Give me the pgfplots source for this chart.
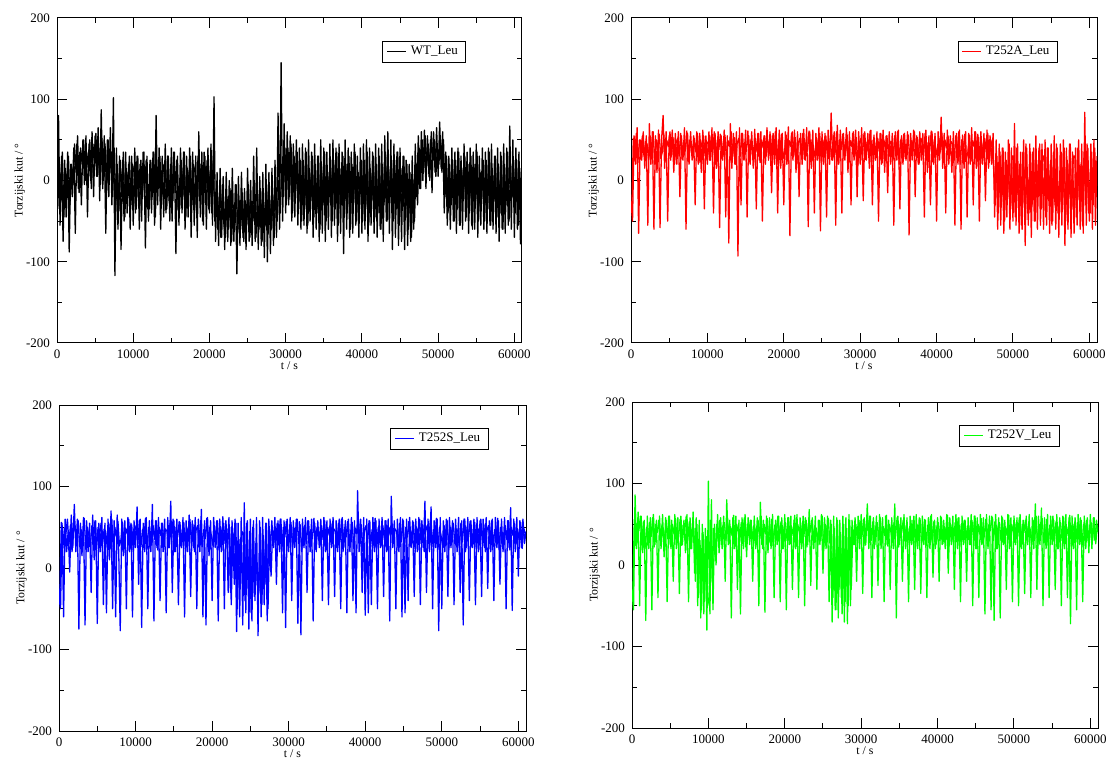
\documentclass[border=0pt]{standalone}
\usepackage{pgfplots}
\pgfplotsset{compat=1.18}
\usepackage{fontspec}
\setmainfont{Liberation Serif}

\pgfplotsset{
  panel/.style={
    scale only axis, anchor=south west,
    xmin=0, xmax=61000, ymin=-200, ymax=200,
    scaled x ticks=false, scaled y ticks=false,
    xtick={0,10000,20000,30000,40000,50000,60000},
    xticklabels={0,10000,20000,30000,40000,50000,60000},
    ytick={-200,-100,0,100,200},
    yticklabels={-200,-100,0,100,200},
    minor x tick num=1, minor y tick num=1,
    tick align=inside,
    major tick length=5pt, minor tick length=2.5pt,
    tick style={black, line width=0.5pt},
    axis line style={line width=0.5pt},
    ticklabel style={font=\fontsize{6.5}{7}\selectfont},
    xlabel={t / s}, ylabel={Torzijski kut / °},
    every axis y label/.style={at={(axis description cs:-0.08,0.5)}, rotate=90, anchor=center, font=\fontsize{5.9}{7}\selectfont},
    every axis x label/.style={at={(axis description cs:0.5,-0.07)}, anchor=center, font=\fontsize{5.9}{7}\selectfont},
    legend style={anchor=north east, draw=black, line width=0.4pt, fill=white,
      font=\fontsize{6.5}{7}\selectfont, inner xsep=2pt, inner ysep=0.8pt,
      nodes={inner xsep=2pt, inner ysep=1.5pt}},
    legend image code/.code={\draw[#1, line width=0.5pt] (0pt,0pt) -- (9.5pt,0pt);},
  },
  trace/.style={line width=0.65pt, line join=round},
}

\begin{document}
\begin{tikzpicture}
\useasboundingbox (0,0) rectangle (553.5pt,380pt);

% WT_Leu
\begin{axis}[panel, at={(28.5pt,208.5pt)}, width=232.5pt, height=162.5pt,
  legend style={at={(0.88,0.929)}}]
\addplot[trace, black] coordinates {
(0,-45)(200,80)(400,-55)(600,30)(800,-75)(1000,25)(1200,-45)(1400,35)(1600,-88)(1800,20)
(2000,-20)(2200,40)(2400,-65)(2600,45)(2800,-10)(3000,35)(3200,-30)(3400,50)(3600,-5)(3800,55)
(4000,-45)(4200,45)(4400,0)(4600,60)(4800,-20)(5000,55)(5200,5)(5400,65)(5600,-25)(5800,87)
(6000,-10)(6200,55)(6400,-65)(6600,50)(6800,-20)(7000,65)(7200,-30)(7400,102)(7600,-117)(7800,40)
(8000,-60)(8200,30)(8400,-85)(8600,25)(8800,-50)(9000,35)(9200,-40)(9400,20)(9600,-60)(9800,30)
(10000,-55)(10200,40)(10400,-35)(10600,30)(10800,-60)(11000,25)(11200,-20)(11400,35)(11600,-83)(11800,30)
(12000,-50)(12200,25)(12400,-40)(12600,35)(12800,-55)(13000,80)(13200,-30)(13400,40)(13600,-60)(13800,30)
(14000,-45)(14200,45)(14400,-35)(14600,30)(14800,-50)(15000,40)(15200,-25)(15400,35)(15600,-90)(15800,30)
(16000,-55)(16200,40)(16400,-40)(16600,35)(16800,-60)(17000,30)(17200,-45)(17400,40)(17600,-70)(17800,35)
(18000,-55)(18200,30)(18400,-70)(18600,60)(18800,-45)(19000,35)(19200,-55)(19400,30)(19600,-60)(19800,40)
(20000,-40)(20200,45)(20400,-55)(20600,103)(20800,-75)(21000,10)(21200,-80)(21400,15)(21600,-70)(21800,5)
(22000,-85)(22200,10)(22400,-75)(22600,0)(22800,-80)(23000,15)(23200,-75)(23400,-5)(23600,-115)(23800,5)
(24000,-80)(24200,10)(24400,-70)(24600,-10)(24800,-85)(25000,15)(25200,-75)(25400,0)(25600,-80)(25800,30)
(26000,-75)(26200,40)(26400,-85)(26600,5)(26800,-80)(27000,10)(27200,-95)(27400,20)(27600,-100)(27800,10)
(28000,-90)(28200,15)(28400,-80)(28600,25)(28800,-70)(29000,83)(29200,-60)(29400,145)(29600,-50)(29800,70)
(30000,-40)(30200,60)(30400,-30)(30600,55)(30800,-50)(31000,45)(31200,-45)(31400,50)(31600,-55)(31800,40)
(32000,-60)(32200,45)(32400,-55)(32600,40)(32800,-65)(33000,50)(33200,-50)(33400,35)(33600,-70)(33800,45)
(34000,-60)(34200,30)(34400,-75)(34600,50)(34800,-65)(35000,40)(35200,-75)(35400,35)(35600,-60)(35800,45)
(36000,-70)(36200,50)(36400,-55)(36600,40)(36800,-75)(37000,45)(37200,-65)(37400,35)(37600,-90)(37800,50)
(38000,-60)(38200,40)(38400,-70)(38600,35)(38800,-65)(39000,45)(39200,-55)(39400,30)(39600,-70)(39800,40)
(40000,-65)(40200,45)(40400,-60)(40600,50)(40800,-75)(41000,40)(41200,-55)(41400,35)(41600,-65)(41800,45)
(42000,-70)(42200,40)(42400,-60)(42600,45)(42800,-75)(43000,55)(43200,-50)(43400,60)(43600,-65)(43800,50)
(44000,-85)(44200,45)(44400,-70)(44600,35)(44800,-80)(45000,40)(45200,-75)(45400,30)(45600,-85)(45800,25)
(46000,-80)(46200,20)(46400,-75)(46600,30)(46800,-60)(47000,45)(47200,-20)(47400,55)(47600,-10)(47800,60)
(48000,0)(48200,62)(48400,-10)(48600,55)(48800,5)(49000,50)(49200,-15)(49400,60)(49600,10)(49800,65)
(50000,5)(50200,72)(50400,15)(50600,60)(50800,-40)(51000,35)(51200,-55)(51400,30)(51600,-60)(51800,40)
(52000,-50)(52200,35)(52400,-65)(52600,40)(52800,-55)(53000,30)(53200,-60)(53400,45)(53600,-50)(53800,35)
(54000,-65)(54200,40)(54400,-55)(54600,35)(54800,-60)(55000,45)(55200,-70)(55400,30)(55600,-55)(55800,40)
(56000,-60)(56200,35)(56400,-65)(56600,40)(56800,-55)(57000,45)(57200,-60)(57400,30)(57600,-65)(57800,40)
(58000,-75)(58200,35)(58400,-60)(58600,45)(58800,-65)(59000,40)(59200,-55)(59400,67)(59600,-60)(59800,50)
(60000,-70)(60200,40)(60400,-60)(60600,35)(60800,-78)(61000,20)
};
\addlegendentry{WT\_Leu}
\addplot[trace, black, forget plot] coordinates {
(100,-35)(300,25)(500,-20)(700,35)(900,-45)(1100,15)(1300,-10)(1500,30)(1700,-30)(1900,20)
(2100,-5)(2300,45)(2500,10)(2700,55)(2900,-15)(3100,40)(3300,20)(3500,50)(3700,0)(3900,35)
(4100,15)(4300,50)(4500,-10)(4700,45)(4900,25)(5100,58)(5300,5)(5500,40)(5700,-5)(5900,52)
(6100,0)(6300,45)(6500,-15)(6700,50)(6900,10)(7100,35)(7300,-20)(7500,40)(7700,-30)(7900,20)
(8100,-35)(8300,25)(8500,-20)(8700,35)(8900,-45)(9100,15)(9300,-10)(9500,30)(9700,-30)(9900,20)
(10100,10)(10300,-40)(10500,30)(10700,-25)(10900,20)(11100,-50)(11300,35)(11500,-15)(11700,25)(11900,-35)
(12100,-35)(12300,25)(12500,-20)(12700,35)(12900,-45)(13100,15)(13300,-10)(13500,30)(13700,-30)(13900,20)
(14100,10)(14300,-40)(14500,30)(14700,-25)(14900,20)(15100,-50)(15300,35)(15500,-15)(15700,25)(15900,-35)
(16100,-35)(16300,25)(16500,-20)(16700,35)(16900,-45)(17100,15)(17300,-10)(17500,30)(17700,-30)(17900,20)
(18100,10)(18300,-40)(18500,30)(18700,-25)(18900,20)(19100,-50)(19300,35)(19500,-15)(19700,25)(19900,-35)
(20100,10)(20300,-40)(20500,30)(20700,-50)(20900,-10)(21100,-60)(21300,-20)(21500,-70)(21700,-5)(21900,-55)
(22100,-70)(22300,-20)(22500,-60)(22700,-10)(22900,-75)(23100,-30)(23300,-55)(23500,-5)(23700,-65)(23900,-25)
(24100,-60)(24300,-15)(24500,-75)(24700,-25)(24900,-55)(25100,-5)(25300,-70)(25500,-35)(25700,-50)(25900,-20)
(26100,-70)(26300,-20)(26500,-60)(26700,-10)(26900,-75)(27100,-30)(27300,-55)(27500,-5)(27700,-65)(27900,-25)
(28100,-60)(28300,-20)(28500,-70)(28700,-10)(28900,-50)(29100,0)(29300,-40)(29500,20)(29700,-20)(29900,40)
(30100,-30)(30300,40)(30500,-20)(30700,45)(30900,-40)(31100,30)(31300,-10)(31500,35)(31700,-35)(31900,25)
(32100,-50)(32300,25)(32500,-35)(32700,35)(32900,-55)(33100,15)(33300,-25)(33500,30)(33700,-45)(33900,20)
(34100,-40)(34300,30)(34500,-60)(34700,20)(34900,-30)(35100,35)(35300,-50)(35500,10)(35700,-20)(35900,25)
(36100,-50)(36300,25)(36500,-35)(36700,35)(36900,-55)(37100,15)(37300,-25)(37500,30)(37700,-45)(37900,20)
(38100,-40)(38300,30)(38500,-60)(38700,20)(38900,-30)(39100,35)(39300,-50)(39500,10)(39700,-20)(39900,25)
(40100,-50)(40300,25)(40500,-35)(40700,35)(40900,-55)(41100,15)(41300,-25)(41500,30)(41700,-45)(41900,20)
(42100,-40)(42300,30)(42500,-60)(42700,20)(42900,-30)(43100,35)(43300,-50)(43500,10)(43700,-20)(43900,25)
(44100,-50)(44300,25)(44500,-35)(44700,35)(44900,-55)(45100,15)(45300,-25)(45500,30)(45700,-45)(45900,20)
(46100,-60)(46300,10)(46500,-70)(46700,0)(46900,-50)(47100,20)(47300,-30)(47500,40)(47700,-10)(47900,50)
(48100,10)(48300,55)(48500,20)(48700,45)(48900,0)(49100,60)(49300,25)(49500,50)(49700,5)(49900,40)
(50100,20)(50300,55)(50500,10)(50700,50)(50900,-20)(51100,30)(51300,-40)(51500,20)(51700,-30)(51900,25)
(52100,-50)(52300,25)(52500,-35)(52700,35)(52900,-55)(53100,15)(53300,-25)(53500,30)(53700,-45)(53900,20)
(54100,-40)(54300,30)(54500,-60)(54700,20)(54900,-30)(55100,35)(55300,-50)(55500,10)(55700,-20)(55900,25)
(56100,-50)(56300,25)(56500,-35)(56700,35)(56900,-55)(57100,15)(57300,-25)(57500,30)(57700,-45)(57900,20)
(58100,-40)(58300,30)(58500,-60)(58700,20)(58900,-30)(59100,35)(59300,-50)(59500,10)(59700,-20)(59900,25)
(60100,-40)(60300,25)(60500,-55)(60700,15)(60900,-30)
};
\end{axis}

% T252A_Leu
\begin{axis}[panel, at={(315.5pt,208.5pt)}, width=233pt, height=162.5pt,
  legend style={at={(0.916,0.929)}}]
\addplot[trace, red] coordinates {
(0,-25)(200,-50)(400,55)(600,20)(800,65)(1000,-65)(1200,50)(1400,25)(1600,60)(1800,15)
(2000,55)(2200,-55)(2400,70)(2600,20)(2800,60)(3000,-60)(3200,55)(3400,10)(3600,62)(3800,-58)
(4000,50)(4200,80)(4400,15)(4600,60)(4800,-50)(5000,55)(5200,25)(5400,62)(5600,10)(5800,58)
(6000,20)(6200,60)(6400,-20)(6600,55)(6800,25)(7000,65)(7200,-60)(7400,58)(7600,20)(7800,60)
(8000,25)(8200,55)(8400,-30)(8600,60)(8800,20)(9000,58)(9200,10)(9400,62)(9600,-35)(9800,55)
(10000,20)(10200,60)(10400,25)(10600,65)(10800,-40)(11000,58)(11200,15)(11400,60)(11600,-58)(11800,55)
(12000,25)(12200,62)(12400,-45)(12600,55)(12800,-77)(13000,70)(13200,15)(13400,58)(13600,20)(13800,60)
(14000,-93)(14200,65)(14400,-30)(14600,58)(14800,25)(15000,62)(15200,-45)(15400,55)(15600,20)(15800,60)
(16000,15)(16200,63)(16400,-35)(16600,58)(16800,25)(17000,60)(17200,-50)(17400,55)(17600,20)(17800,65)
(18000,25)(18200,60)(18400,-15)(18600,58)(18800,20)(19000,65)(19200,-40)(19400,62)(19600,15)(19800,58)
(20000,-30)(20200,60)(20400,20)(20600,66)(20800,-68)(21000,58)(21200,25)(21400,62)(21600,10)(21800,60)
(22000,-20)(22200,58)(22400,20)(22600,63)(22800,25)(23000,65)(23200,-57)(23400,60)(23600,15)(23800,62)
(24000,-40)(24200,58)(24400,25)(24600,65)(24800,-62)(25000,60)(25200,20)(25400,58)(25600,-45)(25800,62)
(26000,20)(26200,83)(26400,25)(26600,60)(26800,-55)(27000,68)(27200,20)(27400,62)(27600,-40)(27800,58)
(28000,25)(28200,65)(28400,10)(28600,60)(28800,-30)(29000,58)(29200,25)(29400,62)(29600,-20)(29800,60)
(30000,20)(30200,65)(30400,-25)(30600,60)(30800,25)(31000,58)(31200,15)(31400,62)(31600,-30)(31800,56)
(32000,25)(32200,60)(32400,-50)(32600,58)(32800,20)(33000,62)(33200,10)(33400,55)(33600,-15)(33800,60)
(34000,20)(34200,58)(34400,-55)(34600,60)(34800,25)(35000,62)(35200,-35)(35400,55)(35600,20)(35800,58)
(36000,25)(36200,60)(36400,-67)(36600,58)(36800,25)(37000,62)(37200,-20)(37400,55)(37600,20)(37800,60)
(38000,25)(38200,58)(38400,-45)(38600,62)(38800,10)(39000,55)(39200,-30)(39400,60)(39600,20)(39800,58)
(40000,-50)(40200,60)(40400,25)(40600,78)(40800,15)(41000,58)(41200,-40)(41400,62)(41600,20)(41800,55)
(42000,10)(42200,60)(42400,-55)(42600,58)(42800,20)(43000,62)(43200,-60)(43400,56)(43600,15)(43800,60)
(44000,-45)(44200,58)(44400,20)(44600,65)(44800,-30)(45000,60)(45200,15)(45400,57)(45600,-50)(45800,60)
(46000,20)(46200,58)(46400,-25)(46600,62)(46800,15)(47000,55)(47200,20)(47400,58)(47600,-45)(47800,50)
(48000,-60)(48200,45)(48400,-55)(48600,40)(48800,-65)(49000,35)(49200,-45)(49400,50)(49600,-60)(49800,40)
(50000,-50)(50200,70)(50400,-55)(50600,45)(50800,-65)(51000,35)(51200,-60)(51400,50)(51600,-80)(51800,40)
(52000,-55)(52200,45)(52400,-70)(52600,35)(52800,-50)(53000,55)(53200,-60)(53400,40)(53600,-55)(53800,45)
(54000,-60)(54200,50)(54400,-55)(54600,40)(54800,-65)(55000,45)(55200,-50)(55400,55)(55600,-60)(55800,40)
(56000,-70)(56200,45)(56400,-55)(56600,50)(56800,-80)(57000,40)(57200,-60)(57400,45)(57600,-70)(57800,35)
(58000,-65)(58200,40)(58400,-55)(58600,50)(58800,-60)(59000,45)(59200,-65)(59400,84)(59600,-55)(59800,40)
(60000,-50)(60200,45)(60400,-60)(60600,50)(60800,-55)(61000,30)
};
\addlegendentry{T252A\_Leu}
\addplot[trace, red, forget plot] coordinates {
(100,-40)(300,52)(500,35)(700,58)(900,22)(1100,50)(1300,40)(1500,55)(1700,30)(1900,48)
(2100,45)(2300,25)(2500,55)(2700,32)(2900,60)(3100,20)(3300,50)(3500,38)(3700,57)(3900,27)
(4100,35)(4300,56)(4500,24)(4700,49)(4900,42)(5100,60)(5300,30)(5500,53)(5700,20)(5900,46)
(6100,52)(6300,30)(6500,58)(6700,26)(6900,47)(7100,36)(7300,61)(7500,23)(7700,50)(7900,40)
(8100,28)(8300,52)(8500,35)(8700,58)(8900,22)(9100,50)(9300,40)(9500,55)(9700,30)(9900,48)
(10100,45)(10300,25)(10500,55)(10700,32)(10900,60)(11100,20)(11300,50)(11500,38)(11700,57)(11900,27)
(12100,35)(12300,56)(12500,24)(12700,49)(12900,42)(13100,60)(13300,30)(13500,53)(13700,20)(13900,46)
(14100,52)(14300,30)(14500,58)(14700,26)(14900,47)(15100,36)(15300,61)(15500,23)(15700,50)(15900,40)
(16100,28)(16300,52)(16500,35)(16700,58)(16900,22)(17100,50)(17300,40)(17500,55)(17700,30)(17900,48)
(18100,45)(18300,25)(18500,55)(18700,32)(18900,60)(19100,20)(19300,50)(19500,38)(19700,57)(19900,27)
(20100,35)(20300,56)(20500,24)(20700,49)(20900,42)(21100,60)(21300,30)(21500,53)(21700,20)(21900,46)
(22100,52)(22300,30)(22500,58)(22700,26)(22900,47)(23100,36)(23300,61)(23500,23)(23700,50)(23900,40)
(24100,28)(24300,52)(24500,35)(24700,58)(24900,22)(25100,50)(25300,40)(25500,55)(25700,30)(25900,48)
(26100,45)(26300,25)(26500,55)(26700,32)(26900,60)(27100,20)(27300,50)(27500,38)(27700,57)(27900,27)
(28100,35)(28300,56)(28500,24)(28700,49)(28900,42)(29100,60)(29300,30)(29500,53)(29700,20)(29900,46)
(30100,52)(30300,30)(30500,58)(30700,26)(30900,47)(31100,36)(31300,61)(31500,23)(31700,50)(31900,40)
(32100,28)(32300,52)(32500,35)(32700,58)(32900,22)(33100,50)(33300,40)(33500,55)(33700,30)(33900,48)
(34100,45)(34300,25)(34500,55)(34700,32)(34900,60)(35100,20)(35300,50)(35500,38)(35700,57)(35900,27)
(36100,35)(36300,56)(36500,24)(36700,49)(36900,42)(37100,60)(37300,30)(37500,53)(37700,20)(37900,46)
(38100,52)(38300,30)(38500,58)(38700,26)(38900,47)(39100,36)(39300,61)(39500,23)(39700,50)(39900,40)
(40100,28)(40300,52)(40500,35)(40700,58)(40900,22)(41100,50)(41300,40)(41500,55)(41700,30)(41900,48)
(42100,45)(42300,25)(42500,55)(42700,32)(42900,60)(43100,20)(43300,50)(43500,38)(43700,57)(43900,27)
(44100,35)(44300,56)(44500,24)(44700,49)(44900,42)(45100,60)(45300,30)(45500,53)(45700,20)(45900,46)
(46100,28)(46300,52)(46500,35)(46700,58)(46900,22)(47100,50)(47300,40)(47500,10)(47700,-30)(47900,30)
(48100,-40)(48300,35)(48500,-30)(48700,40)(48900,-50)(49100,25)(49300,-20)(49500,45)(49700,-35)(49900,30)
(50100,30)(50300,-45)(50500,40)(50700,-25)(50900,20)(51100,-55)(51300,35)(51500,-30)(51700,45)(51900,-40)
(52100,-40)(52300,35)(52500,-30)(52700,40)(52900,-50)(53100,25)(53300,-20)(53500,45)(53700,-35)(53900,30)
(54100,30)(54300,-45)(54500,40)(54700,-25)(54900,20)(55100,-55)(55300,35)(55500,-30)(55700,45)(55900,-40)
(56100,-40)(56300,35)(56500,-30)(56700,40)(56900,-50)(57100,25)(57300,-20)(57500,45)(57700,-35)(57900,30)
(58100,30)(58300,-45)(58500,40)(58700,-25)(58900,20)(59100,-55)(59300,35)(59500,-30)(59700,45)(59900,-40)
(60100,-40)(60300,35)(60500,-30)(60700,40)(60900,-20)
};
\end{axis}

% T252S_Leu
\begin{axis}[panel, at={(29.5pt,14.5pt)}, width=233.5pt, height=163pt,
  legend style={at={(0.92,0.93)}}]
\addplot[trace, blue] coordinates {
(0,-25)(200,-50)(400,55)(600,-60)(800,60)(1000,20)(1200,45)(1400,-5)(1600,65)(1800,25)
(2000,78)(2200,20)(2400,60)(2600,-75)(2800,55)(3000,15)(3200,62)(3400,-70)(3600,58)(3800,20)
(4000,55)(4200,-30)(4400,65)(4600,10)(4800,58)(5000,-68)(5200,55)(5400,20)(5600,62)(5800,-45)
(6000,55)(6200,-55)(6400,60)(6600,10)(6800,70)(7000,-50)(7200,58)(7400,-60)(7600,65)(7800,20)
(8000,-77)(8200,60)(8400,15)(8600,58)(8800,-50)(9000,62)(9200,20)(9400,55)(9600,-60)(9800,58)
(10000,25)(10200,75)(10400,-20)(10600,60)(10800,-73)(11000,55)(11200,20)(11400,62)(11600,-50)(11800,58)
(12000,20)(12200,78)(12400,-65)(12600,58)(12800,25)(13000,62)(13200,-40)(13400,55)(13600,20)(13800,60)
(14000,-55)(14200,62)(14400,25)(14600,82)(14800,-30)(15000,58)(15200,20)(15400,60)(15600,-45)(15800,56)
(16000,25)(16200,62)(16400,-60)(16600,58)(16800,20)(17000,65)(17200,-35)(17400,58)(17600,25)(17800,62)
(18000,-50)(18200,60)(18400,20)(18600,72)(18800,-60)(19000,58)(19200,-70)(19400,62)(19600,15)(19800,58)
(20000,-40)(20200,62)(20400,25)(20600,58)(20800,-65)(21000,60)(21200,20)(21400,63)(21600,-50)(21800,58)
(22000,25)(22200,62)(22400,-30)(22600,58)(22800,20)(23000,60)(23200,-78)(23400,55)(23600,-60)(23800,62)
(24000,-70)(24200,80)(24400,-55)(24600,58)(24800,-75)(25000,60)(25200,-65)(25400,58)(25600,-40)(25800,62)
(26000,-83)(26200,58)(26400,-60)(26600,62)(26800,-45)(27000,55)(27200,-65)(27400,60)(27600,20)(27800,58)
(28000,25)(28200,62)(28400,-20)(28600,58)(28800,20)(29000,60)(29200,-55)(29400,58)(29600,-73)(29800,60)
(30000,20)(30200,62)(30400,-40)(30600,58)(30800,25)(31000,60)(31200,-68)(31400,57)(31600,-82)(31800,60)
(32000,25)(32200,62)(32400,-30)(32600,58)(32800,20)(33000,60)(33200,-65)(33400,55)(33600,20)(33800,58)
(34000,25)(34200,60)(34400,-40)(34600,62)(34800,20)(35000,58)(35200,-45)(35400,60)(35600,25)(35800,62)
(36000,-35)(36200,58)(36400,20)(36600,60)(36800,-50)(37000,62)(37200,25)(37400,58)(37600,-55)(37800,60)
(38000,20)(38200,62)(38400,-40)(38600,58)(38800,-55)(39000,95)(39200,20)(39400,60)(39600,-30)(39800,62)
(40000,-58)(40200,60)(40400,-55)(40600,58)(40800,-45)(41000,62)(41200,20)(41400,58)(41600,-50)(41800,60)
(42000,25)(42200,62)(42400,-35)(42600,58)(42800,20)(43000,60)(43200,-65)(43400,88)(43600,25)(43800,58)
(44000,-50)(44200,60)(44400,20)(44600,62)(44800,-60)(45000,58)(45200,-55)(45400,60)(45600,-40)(45800,62)
(46000,25)(46200,58)(46400,-35)(46600,60)(46800,20)(47000,62)(47200,-45)(47400,58)(47600,25)(47800,82)
(48000,-30)(48200,60)(48400,20)(48600,75)(48800,-50)(49000,58)(49200,25)(49400,60)(49600,-77)(49800,62)
(50000,-50)(50200,58)(50400,20)(50600,60)(50800,-35)(51000,62)(51200,25)(51400,58)(51600,-45)(51800,60)
(52000,20)(52200,62)(52400,-30)(52600,58)(52800,-70)(53000,60)(53200,25)(53400,62)(53600,-40)(53800,58)
(54000,25)(54200,60)(54400,-45)(54600,62)(54800,20)(55000,58)(55200,-35)(55400,60)(55600,25)(55800,62)
(56000,-25)(56200,58)(56400,20)(56600,60)(56800,-40)(57000,62)(57200,25)(57400,58)(57600,-20)(57800,60)
(58000,20)(58200,62)(58400,-50)(58600,58)(58800,25)(59000,74)(59200,-52)(59400,60)(59600,20)(59800,62)
(60000,-10)(60200,58)(60400,25)(60600,60)(60800,30)(61000,45)
};
\addlegendentry{T252S\_Leu}
\addplot[trace, blue, forget plot] coordinates {
(100,-45)(300,56)(500,24)(700,49)(900,42)(1100,60)(1300,30)(1500,53)(1700,20)(1900,46)
(2100,52)(2300,30)(2500,58)(2700,26)(2900,47)(3100,36)(3300,61)(3500,23)(3700,50)(3900,40)
(4100,28)(4300,52)(4500,35)(4700,58)(4900,22)(5100,50)(5300,40)(5500,55)(5700,30)(5900,48)
(6100,45)(6300,25)(6500,55)(6700,32)(6900,60)(7100,20)(7300,50)(7500,38)(7700,57)(7900,27)
(8100,35)(8300,56)(8500,24)(8700,49)(8900,42)(9100,60)(9300,30)(9500,53)(9700,20)(9900,46)
(10100,52)(10300,30)(10500,58)(10700,26)(10900,47)(11100,36)(11300,61)(11500,23)(11700,50)(11900,40)
(12100,28)(12300,52)(12500,35)(12700,58)(12900,22)(13100,50)(13300,40)(13500,55)(13700,30)(13900,48)
(14100,45)(14300,25)(14500,55)(14700,32)(14900,60)(15100,20)(15300,50)(15500,38)(15700,57)(15900,27)
(16100,35)(16300,56)(16500,24)(16700,49)(16900,42)(17100,60)(17300,30)(17500,53)(17700,20)(17900,46)
(18100,52)(18300,30)(18500,58)(18700,26)(18900,47)(19100,36)(19300,61)(19500,23)(19700,50)(19900,40)
(20100,28)(20300,52)(20500,35)(20700,58)(20900,22)(21100,50)(21300,40)(21500,55)(21700,30)(21900,48)
(22100,-30)(22300,50)(22500,-45)(22700,40)(22900,-20)(23100,55)(23300,-50)(23500,35)(23700,-10)(23900,45)
(24100,40)(24300,-40)(24500,55)(24700,-25)(24900,45)(25100,-55)(25300,50)(25500,-35)(25700,30)(25900,-20)
(26100,-30)(26300,50)(26500,-45)(26700,40)(26900,-20)(27100,55)(27300,-50)(27500,35)(27700,-10)(27900,45)
(28100,45)(28300,25)(28500,55)(28700,32)(28900,60)(29100,20)(29300,50)(29500,38)(29700,57)(29900,27)
(30100,35)(30300,56)(30500,24)(30700,49)(30900,42)(31100,60)(31300,30)(31500,53)(31700,20)(31900,46)
(32100,52)(32300,30)(32500,58)(32700,26)(32900,47)(33100,36)(33300,61)(33500,23)(33700,50)(33900,40)
(34100,28)(34300,52)(34500,35)(34700,58)(34900,22)(35100,50)(35300,40)(35500,55)(35700,30)(35900,48)
(36100,45)(36300,25)(36500,55)(36700,32)(36900,60)(37100,20)(37300,50)(37500,38)(37700,57)(37900,27)
(38100,35)(38300,56)(38500,24)(38700,49)(38900,42)(39100,60)(39300,30)(39500,53)(39700,20)(39900,46)
(40100,52)(40300,30)(40500,58)(40700,26)(40900,47)(41100,36)(41300,61)(41500,23)(41700,50)(41900,40)
(42100,28)(42300,52)(42500,35)(42700,58)(42900,22)(43100,50)(43300,40)(43500,55)(43700,30)(43900,48)
(44100,45)(44300,25)(44500,55)(44700,32)(44900,60)(45100,20)(45300,50)(45500,38)(45700,57)(45900,27)
(46100,35)(46300,56)(46500,24)(46700,49)(46900,42)(47100,60)(47300,30)(47500,53)(47700,20)(47900,46)
(48100,52)(48300,30)(48500,58)(48700,26)(48900,47)(49100,36)(49300,61)(49500,23)(49700,50)(49900,40)
(50100,28)(50300,52)(50500,35)(50700,58)(50900,22)(51100,50)(51300,40)(51500,55)(51700,30)(51900,48)
(52100,45)(52300,25)(52500,55)(52700,32)(52900,60)(53100,20)(53300,50)(53500,38)(53700,57)(53900,27)
(54100,35)(54300,56)(54500,24)(54700,49)(54900,42)(55100,60)(55300,30)(55500,53)(55700,20)(55900,46)
(56100,52)(56300,30)(56500,58)(56700,26)(56900,47)(57100,36)(57300,61)(57500,23)(57700,50)(57900,40)
(58100,28)(58300,52)(58500,35)(58700,58)(58900,22)(59100,50)(59300,40)(59500,55)(59700,30)(59900,48)
(60100,35)(60300,56)(60500,24)(60700,49)(60900,42)
};
\end{axis}

% T252V_Leu
\begin{axis}[panel, at={(316pt,16pt)}, width=233pt, height=163pt,
  legend style={at={(0.918,0.93)}}]
\addplot[trace, green] coordinates {
(0,-30)(200,-55)(400,86)(600,20)(800,65)(1000,-50)(1200,60)(1400,15)(1600,55)(1800,-68)
(2000,60)(2200,20)(2400,58)(2600,-55)(2800,62)(3000,25)(3200,55)(3400,-40)(3600,60)(3800,20)
(4000,62)(4200,10)(4400,58)(4600,-45)(4800,60)(5000,25)(5200,55)(5400,-20)(5600,62)(5800,20)
(6000,58)(6200,-35)(6400,60)(6600,25)(6800,55)(7000,15)(7200,62)(7400,-45)(7600,58)(7800,20)
(8000,65)(8200,-10)(8400,58)(8600,-50)(8800,55)(9000,-65)(9200,50)(9400,-60)(9600,45)(9800,-80)
(10000,103)(10200,-60)(10400,80)(10600,-55)(10800,50)(11000,0)(11200,62)(11400,15)(11600,58)(11800,20)
(12000,60)(12200,-20)(12400,80)(12600,25)(12800,55)(13000,-65)(13200,58)(13400,20)(13600,60)(13800,-30)
(14000,55)(14200,-60)(14400,58)(14600,20)(14800,62)(15000,10)(15200,58)(15400,25)(15600,55)(15800,-20)
(16000,60)(16200,20)(16400,58)(16600,-50)(16800,77)(17000,25)(17200,55)(17400,-58)(17600,60)(17800,15)
(18000,58)(18200,20)(18400,62)(18600,-40)(18800,55)(19000,25)(19200,60)(19400,-45)(19600,58)(19800,20)
(20000,62)(20200,-55)(20400,58)(20600,25)(20800,60)(21000,-30)(21200,55)(21400,20)(21600,62)(21800,-40)
(22000,58)(22200,20)(22400,60)(22600,-50)(22800,55)(23000,25)(23200,68)(23400,-25)(23600,58)(23800,20)
(24000,60)(24200,-30)(24400,55)(24600,25)(24800,62)(25000,-10)(25200,58)(25400,20)(25600,60)(25800,-45)
(26000,55)(26200,-70)(26400,60)(26600,-55)(26800,58)(27000,-65)(27200,55)(27400,-40)(27600,60)(27800,-70)
(28000,58)(28200,-72)(28400,62)(28600,-50)(28800,55)(29000,25)(29200,58)(29400,-20)(29600,60)(29800,20)
(30000,62)(30200,-35)(30400,58)(30600,25)(30800,75)(31000,20)(31200,60)(31400,-40)(31600,58)(31800,25)
(32000,60)(32200,-25)(32400,62)(32600,20)(32800,58)(33000,-45)(33200,60)(33400,25)(33600,55)(33800,-30)
(34000,58)(34200,20)(34400,75)(34600,-65)(34800,60)(35000,25)(35200,58)(35400,-20)(35600,62)(35800,20)
(36000,58)(36200,-45)(36400,60)(36600,25)(36800,55)(37000,-30)(37200,62)(37400,20)(37600,58)(37800,-35)
(38000,60)(38200,25)(38400,55)(38600,-40)(38800,58)(39000,20)(39200,62)(39400,-15)(39600,55)(39800,25)
(40000,58)(40200,-20)(40400,60)(40600,25)(40800,55)(41000,20)(41200,62)(41400,-10)(41600,58)(41800,25)
(42000,60)(42200,-30)(42400,62)(42600,20)(42800,58)(43000,-45)(43200,60)(43400,25)(43600,55)(43800,-20)
(44000,58)(44200,25)(44400,62)(44600,-50)(44800,60)(45000,20)(45200,58)(45400,-40)(45600,62)(45800,25)
(46000,58)(46200,-60)(46400,62)(46600,20)(46800,60)(47000,-55)(47200,58)(47400,-68)(47600,62)(47800,20)
(48000,58)(48200,-65)(48400,60)(48600,25)(48800,55)(49000,-30)(49200,62)(49400,20)(49600,58)(49800,-45)
(50000,60)(50200,25)(50400,58)(50600,-50)(50800,62)(51000,20)(51200,55)(51400,-35)(51600,60)(51800,25)
(52000,62)(52200,-40)(52400,58)(52600,20)(52800,75)(53000,-30)(53200,60)(53400,25)(53600,70)(53800,-50)
(54000,58)(54200,20)(54400,62)(54600,-40)(54800,60)(55000,25)(55200,55)(55400,-30)(55600,62)(55800,20)
(56000,58)(56200,-50)(56400,60)(56600,20)(56800,62)(57000,-40)(57200,58)(57400,-72)(57600,60)(57800,20)
(58000,58)(58200,-55)(58400,62)(58600,25)(58800,55)(59000,-45)(59200,60)(59400,20)(59600,58)(59800,15)
(60000,62)(60200,20)(60400,58)(60600,30)(60800,55)(61000,40)
};
\addlegendentry{T252V\_Leu}
\addplot[trace, green, forget plot] coordinates {
(100,-45)(300,56)(500,24)(700,49)(900,42)(1100,60)(1300,30)(1500,53)(1700,20)(1900,46)
(2100,28)(2300,52)(2500,35)(2700,58)(2900,22)(3100,50)(3300,40)(3500,55)(3700,30)(3900,48)
(4100,45)(4300,25)(4500,55)(4700,32)(4900,60)(5100,20)(5300,50)(5500,38)(5700,57)(5900,27)
(6100,35)(6300,56)(6500,24)(6700,49)(6900,42)(7100,60)(7300,30)(7500,53)(7700,20)(7900,46)
(8100,45)(8300,-20)(8500,50)(8700,-40)(8900,30)(9100,-55)(9300,40)(9500,-45)(9700,35)(9900,-50)
(10100,-40)(10300,55)(10500,-20)(10700,45)(10900,10)(11100,50)(11300,30)(11500,55)(11700,25)(11900,48)
(12100,52)(12300,30)(12500,58)(12700,26)(12900,47)(13100,36)(13300,61)(13500,23)(13700,50)(13900,40)
(14100,28)(14300,52)(14500,35)(14700,58)(14900,22)(15100,50)(15300,40)(15500,55)(15700,30)(15900,48)
(16100,45)(16300,25)(16500,55)(16700,32)(16900,60)(17100,20)(17300,50)(17500,38)(17700,57)(17900,27)
(18100,35)(18300,56)(18500,24)(18700,49)(18900,42)(19100,60)(19300,30)(19500,53)(19700,20)(19900,46)
(20100,52)(20300,30)(20500,58)(20700,26)(20900,47)(21100,36)(21300,61)(21500,23)(21700,50)(21900,40)
(22100,28)(22300,52)(22500,35)(22700,58)(22900,22)(23100,50)(23300,40)(23500,55)(23700,30)(23900,48)
(24100,45)(24300,25)(24500,55)(24700,32)(24900,60)(25100,20)(25300,50)(25500,38)(25700,57)(25900,27)
(26100,50)(26300,-40)(26500,45)(26700,-55)(26900,55)(27100,-30)(27300,40)(27500,-60)(27700,50)(27900,-45)
(28100,45)(28300,-50)(28500,55)(28700,-30)(28900,40)(29100,25)(29300,50)(29500,30)(29700,55)(29900,35)
(30100,35)(30300,56)(30500,24)(30700,49)(30900,42)(31100,60)(31300,30)(31500,53)(31700,20)(31900,46)
(32100,52)(32300,30)(32500,58)(32700,26)(32900,47)(33100,36)(33300,61)(33500,23)(33700,50)(33900,40)
(34100,28)(34300,52)(34500,35)(34700,58)(34900,22)(35100,50)(35300,40)(35500,55)(35700,30)(35900,48)
(36100,45)(36300,25)(36500,55)(36700,32)(36900,60)(37100,20)(37300,50)(37500,38)(37700,57)(37900,27)
(38100,35)(38300,56)(38500,24)(38700,49)(38900,42)(39100,60)(39300,30)(39500,53)(39700,20)(39900,46)
(40100,52)(40300,30)(40500,58)(40700,26)(40900,47)(41100,36)(41300,61)(41500,23)(41700,50)(41900,40)
(42100,28)(42300,52)(42500,35)(42700,58)(42900,22)(43100,50)(43300,40)(43500,55)(43700,30)(43900,48)
(44100,45)(44300,25)(44500,55)(44700,32)(44900,60)(45100,20)(45300,50)(45500,38)(45700,57)(45900,27)
(46100,35)(46300,56)(46500,24)(46700,49)(46900,42)(47100,60)(47300,30)(47500,53)(47700,20)(47900,46)
(48100,52)(48300,30)(48500,58)(48700,26)(48900,47)(49100,36)(49300,61)(49500,23)(49700,50)(49900,40)
(50100,28)(50300,52)(50500,35)(50700,58)(50900,22)(51100,50)(51300,40)(51500,55)(51700,30)(51900,48)
(52100,45)(52300,25)(52500,55)(52700,32)(52900,60)(53100,20)(53300,50)(53500,38)(53700,57)(53900,27)
(54100,35)(54300,56)(54500,24)(54700,49)(54900,42)(55100,60)(55300,30)(55500,53)(55700,20)(55900,46)
(56100,52)(56300,30)(56500,58)(56700,26)(56900,47)(57100,36)(57300,61)(57500,23)(57700,50)(57900,40)
(58100,28)(58300,52)(58500,35)(58700,58)(58900,22)(59100,50)(59300,40)(59500,55)(59700,30)(59900,48)
(60100,52)(60300,30)(60500,58)(60700,26)(60900,47)
};
\end{axis}
\end{tikzpicture}
\end{document}
